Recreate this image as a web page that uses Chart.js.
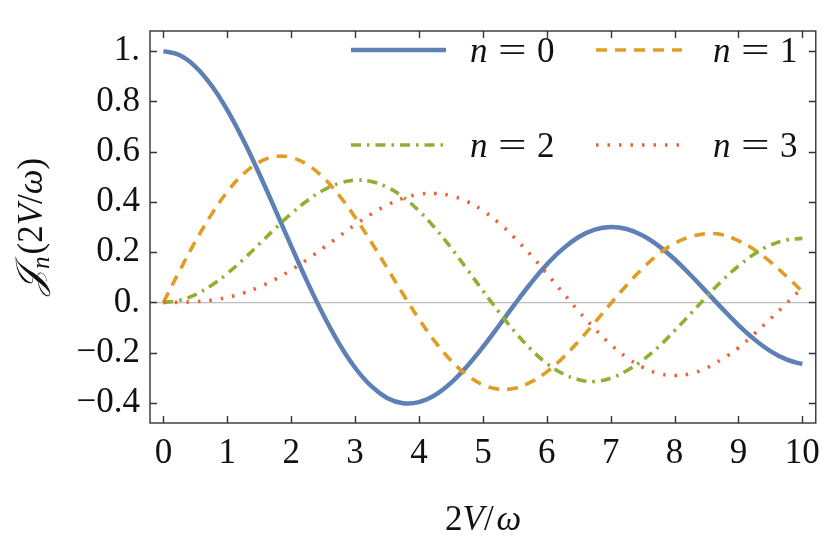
<!DOCTYPE html>
<html>
<head>
<meta charset="utf-8">
<script src="https://cdn.jsdelivr.net/npm/chart.js@4.4.1/dist/chart.umd.min.js"></script>
<style>
  html, body { margin: 0; padding: 0; background: #fff; }
</style>
</head>
<body>
<canvas id="besselChart" width="830" height="546"></canvas>
<script>
const xs = [0, 0.25, 0.5, 0.75, 1, 1.25, 1.5, 1.75, 2, 2.25, 2.5, 2.75, 3, 3.25, 3.5, 3.75, 4, 4.25, 4.5, 4.75,
  5, 5.25, 5.5, 5.75, 6, 6.25, 6.5, 6.75, 7, 7.25, 7.5, 7.75, 8, 8.25, 8.5, 8.75, 9, 9.25, 9.5, 9.75, 10];
const j0 = [1.0, 0.9844, 0.9385, 0.8642, 0.7652, 0.6459, 0.5118, 0.3690, 0.2239, 0.0827, -0.0484, -0.1641,
  -0.2601, -0.3326, -0.3801, -0.4014, -0.3971, -0.3692, -0.3205, -0.2551, -0.1776, -0.0931, -0.0068, 0.0760,
  0.1506, 0.2129, 0.2601, 0.2898, 0.3001, 0.2920, 0.2663, 0.2250, 0.1717, 0.1090, 0.0419, -0.0259, -0.0903,
  -0.1472, -0.1939, -0.2271, -0.2459];
const j1 = [0, 0.1240, 0.2423, 0.3492, 0.4401, 0.5106, 0.5579, 0.5802, 0.5767, 0.5484, 0.4971, 0.4260, 0.3391,
  0.2411, 0.1374, 0.0332, -0.0660, -0.1559, -0.2311, -0.2892, -0.3276, -0.3453, -0.3414, -0.3173, -0.2767,
  -0.2207, -0.1538, -0.0805, -0.0047, 0.0685, 0.1352, 0.1924, 0.2346, 0.2613, 0.2731, 0.2694, 0.2453, 0.2099,
  0.1613, 0.1040, 0.0435];
const j2 = [0, 0.0078, 0.0306, 0.0671, 0.1149, 0.1711, 0.2321, 0.2940, 0.3528, 0.4047, 0.4461, 0.4739, 0.4861,
  0.4812, 0.4586, 0.4192, 0.3641, 0.2960, 0.2178, 0.1330, 0.0466, -0.0379, -0.1173, -0.1860, -0.2429, -0.2832,
  -0.3074, -0.3147, -0.3014, -0.2721, -0.2303, -0.1767, -0.1130, -0.0458, 0.0223, 0.0878, 0.1448, 0.1923,
  0.2279, 0.2482, 0.2546];
const j3 = [0, 0.0003, 0.0026, 0.0085, 0.0196, 0.0369, 0.0610, 0.0919, 0.1289, 0.1707, 0.2166, 0.2630, 0.3091,
  0.3510, 0.3868, 0.4143, 0.4302, 0.4334, 0.4247, 0.4015, 0.3648, 0.3161, 0.2561, 0.1885, 0.1148, 0.0391,
  -0.0353, -0.1047, -0.1676, -0.2186, -0.2581, -0.2826, -0.2911, -0.2837, -0.2610, -0.2245, -0.1809, -0.1247,
  -0.0653, -0.0047, 0.0584];
const seriesLabels = ['0', '1', '2', '3'];
const xTicks = [0, 1, 2, 3, 4, 5, 6, 7, 8, 9, 10];
const yTicks = [-0.4, -0.2, 0, 0.2, 0.4, 0.6, 0.8, 1.0];

const SERIF = '"Liberation Serif", serif';
const FS = 35;
const INK = '#111';

function pts(ys) {
  return xs.map((x, i) => ({ x: x, y: ys[i] }));
}

// frame with inward ticks, the legend and the axis titles
const decorations = {
  id: 'decorations',
  afterDraw(chart) {
    const ctx = chart.ctx;
    const a = chart.chartArea;
    const x = chart.scales.x;
    const y = chart.scales.y;
    ctx.save();

    ctx.strokeStyle = '#333';
    ctx.lineWidth = 1.4;
    ctx.strokeRect(a.left, a.top, a.right - a.left, a.bottom - a.top);
    ctx.beginPath();
    xTicks.forEach(v => {
      const px = Math.round(x.getPixelForValue(v)) + 0.5;
      ctx.moveTo(px, a.bottom); ctx.lineTo(px, a.bottom - 7);
      ctx.moveTo(px, a.top); ctx.lineTo(px, a.top + 7);
    });
    yTicks.forEach(v => {
      const py = Math.round(y.getPixelForValue(v)) + 0.5;
      ctx.moveTo(a.left, py); ctx.lineTo(a.left + 7, py);
      ctx.moveTo(a.right, py); ctx.lineTo(a.right - 7, py);
    });
    ctx.stroke();

    // legend, 2 x 2
    const slots = [[351, 446, 470, 50], [596, 682, 713, 50], [351, 446, 470, 145], [596, 682, 713, 145]];
    chart.data.datasets.forEach((ds, i) => {
      const [x0, x1, tx, ly] = slots[i];
      ctx.save();
      ctx.strokeStyle = ds.borderColor;
      ctx.lineWidth = ds.borderWidth;
      ctx.setLineDash(ds.borderDash || []);
      ctx.beginPath();
      ctx.moveTo(x0, ly); ctx.lineTo(x1, ly);
      ctx.stroke();
      ctx.restore();
      ctx.fillStyle = INK;
      ctx.textBaseline = 'alphabetic';
      ctx.textAlign = 'left';
      ctx.font = 'italic ' + FS + 'px ' + SERIF;
      ctx.fillText('n', tx, ly + 12);
      ctx.font = FS + 'px ' + SERIF;
      ctx.save();
      ctx.translate(tx + 28, ly + 12);
      ctx.scale(1.45, 1);
      ctx.fillText('=', 0, 0);
      ctx.restore();
      ctx.fillText(seriesLabels[i], tx + 67, ly + 12);
    });

    // x title: 2V/ω
    ctx.fillStyle = INK;
    let cx = 445;
    const by = 530;
    const parts = [['2', false], ['V', true], ['/', false], ['ω', true]];
    parts.forEach(([t, it]) => {
      ctx.font = (it ? 'italic ' : '') + FS + 'px ' + SERIF;
      ctx.fillText(t, cx, by);
      cx += ctx.measureText(t).width + (t === '/' ? 3 : 0);
    });

    // y title: 𝒥n(2V/ω), rotated
    ctx.save();
    ctx.translate(42, 295);
    ctx.rotate(-Math.PI / 2);
    let tx = 0;
    const yparts = [['\u{1D4A5}', true, 38, 0], ['n', true, 25, 7], ['(2', false, FS, 0], ['V', true, FS, 0],
      ['/', false, FS, 0], ['ω', true, FS, 0], [')', false, FS, 0]];
    yparts.forEach(([t, it, size, dy]) => {
      ctx.font = (it ? 'italic ' : '') + size + 'px ' + SERIF;
      ctx.fillText(t, tx, dy);
      tx += ctx.measureText(t).width + (t === 'n' ? 2 : 0);
    });
    ctx.restore();

    ctx.restore();
  }
};

new Chart(document.getElementById('besselChart'), {
  type: 'line',
  data: {
    datasets: [
      { label: 'n = 0', data: pts(j0), borderColor: '#5E81B5', borderWidth: 4.5, order: 3 },
      { label: 'n = 1', data: pts(j1), borderColor: '#E19C24', borderWidth: 3.6, borderDash: [11, 8], order: 2 },
      { label: 'n = 2', data: pts(j2), borderColor: '#8FB032', borderWidth: 3.6, borderDash: [10, 6, 2.5, 6], order: 1 },
      { label: 'n = 3', data: pts(j3), borderColor: '#EB6235', borderWidth: 3.6, borderDash: [2.5, 9], order: 0 }
    ]
  },
  options: {
    responsive: false,
    animation: false,
    events: [],
    layout: { padding: { top: 6, right: 7, left: 0, bottom: 0 } },
    elements: {
      point: { radius: 0 },
      line: { tension: 0.4, fill: false, borderCapStyle: 'butt', borderJoinStyle: 'round' }
    },
    plugins: { legend: { display: false }, tooltip: { enabled: false } },
    scales: {
      x: {
        type: 'linear',
        min: -0.21,
        max: 10.21,
        afterFit: s => { s.height = 123; },
        afterBuildTicks: s => { s.ticks = xTicks.map(v => ({ value: v })); },
        grid: { display: false, drawTicks: false },
        border: { display: false },
        ticks: {
          padding: 10,
          color: INK,
          maxRotation: 0,
          font: { family: SERIF, size: FS },
          callback: v => String(v)
        }
      },
      y: {
        type: 'linear',
        min: -0.48,
        max: 1.08,
        afterFit: s => { s.width = 150; },
        afterBuildTicks: s => { s.ticks = yTicks.map(v => ({ value: v })); },
        grid: {
          drawTicks: false,
          color: c => (c.tick && Math.abs(c.tick.value) < 1e-9 ? '#bdbdbd' : 'rgba(0,0,0,0)'),
          lineWidth: 1.2
        },
        border: { display: false },
        ticks: {
          padding: 10,
          color: INK,
          font: { family: SERIF, size: FS },
          callback: v => {
            if (Math.abs(v - 1) < 1e-9) return '1.';
            if (Math.abs(v) < 1e-9) return '0.';
            return (v < 0 ? '\u2212' : '') + Math.abs(v).toFixed(1);
          }
        }
      }
    }
  },
  plugins: [decorations]
});
</script>
</body>
</html>
